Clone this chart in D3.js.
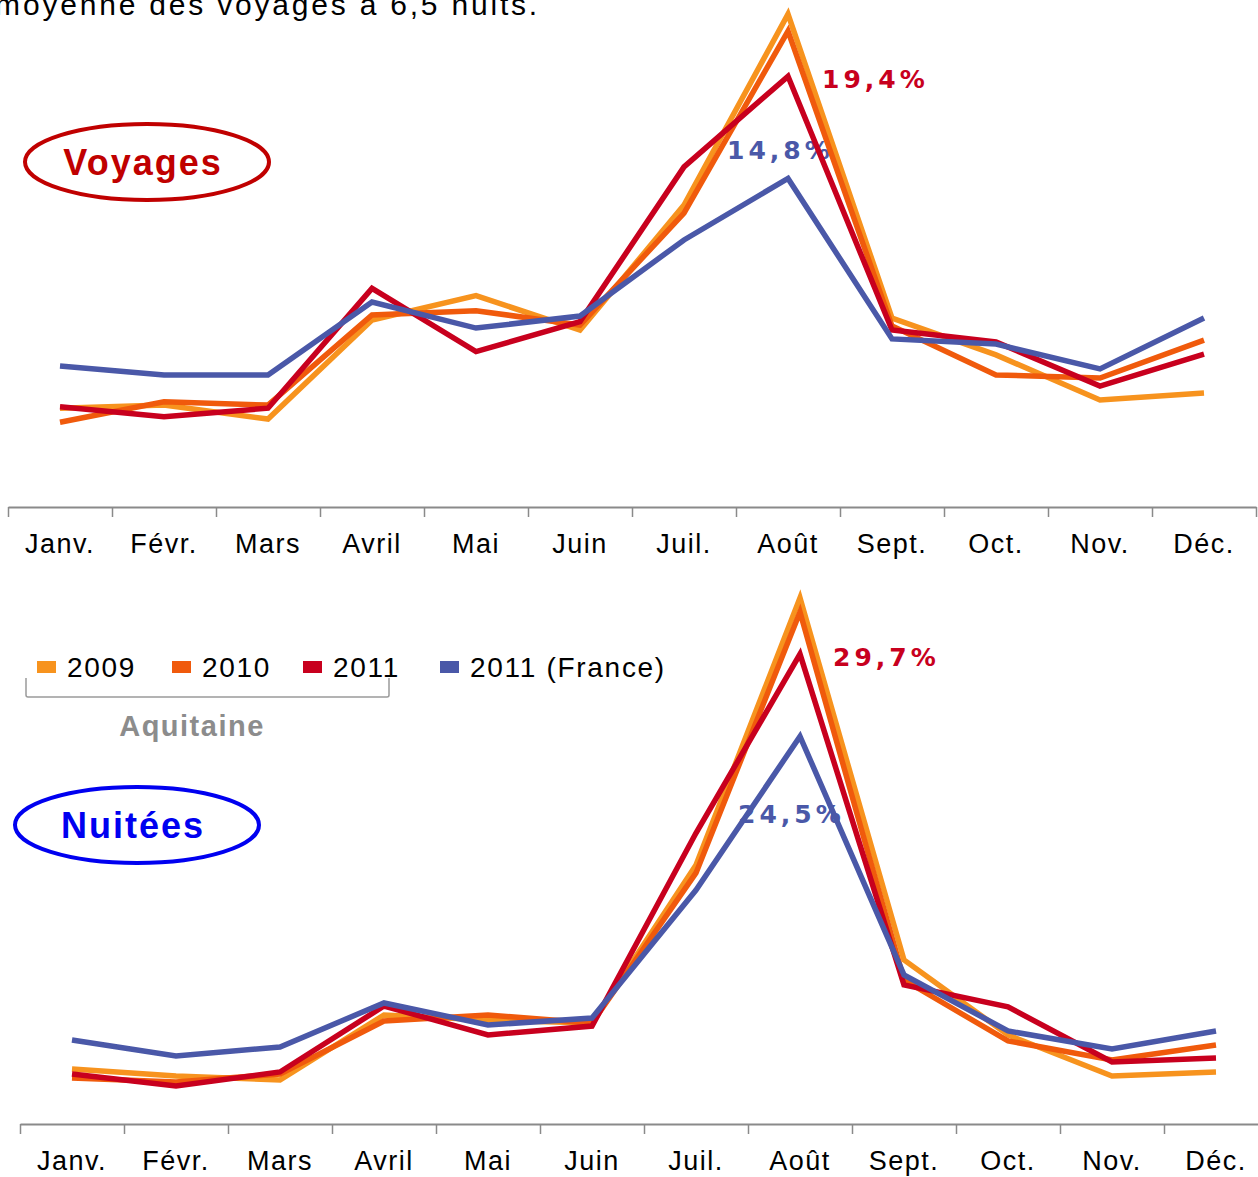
<!DOCTYPE html>
<html>
<head>
<meta charset="utf-8">
<script src="https://cdn.jsdelivr.net/npm/d3@7/dist/d3.min.js"></script>
<style>
  body { margin: 0; background: #fff; }
  svg { display: block; }
</style>
</head>
<body>
<script>
// months (x categories)
var months = ["Janv.", "Févr.", "Mars", "Avril", "Mai", "Juin", "Juil.", "Août", "Sept.", "Oct.", "Nov.", "Déc."];

// share of the year (%) - Voyages
var voyages2009 = [4.45, 4.59, 3.96, 8.42, 9.52, 7.97, 13.6, 22.2, 8.51, 6.85, 4.82, 5.14];
var voyages2010 = [3.82, 4.74, 4.59, 8.65, 8.84, 8.2, 13.24, 21.44, 8.15, 5.95, 5.81, 7.52];
var voyages2011 = [4.52, 4.07, 4.45, 9.85, 7.0, 8.35, 15.32, 19.4, 7.97, 7.43, 5.45, 6.89];
var voyagesFrance = [6.35, 5.95, 5.95, 9.23, 8.06, 8.6, 12.03, 14.8, 7.57, 7.34, 6.22, 8.51];

// share of the year (%) - Nuitées
var nuitees2009 = [3.48, 3.03, 2.78, 6.89, 6.57, 6.38, 16.37, 33.25, 10.37, 5.63, 3.03, 3.29];
var nuitees2010 = [2.91, 2.65, 3.16, 6.51, 6.89, 6.38, 15.87, 32.36, 9.1, 5.25, 4.05, 4.99];
var nuitees2011 = [3.16, 2.4, 3.29, 7.46, 5.63, 6.19, 18.39, 29.7, 8.79, 7.4, 3.92, 4.17];
var nuiteesFrance = [5.31, 4.3, 4.87, 7.65, 6.26, 6.7, 14.79, 24.5, 9.42, 5.88, 4.74, 5.88];

var seriesNames = ["2009", "2010", "2011", "2011 (France)"];
var colors = ["#F7931E", "#F05A0C", "#C8001E", "#4A58A8"];

var svg = d3.select("body").append("svg")
    .attr("width", 1258)
    .attr("height", 1177);

// text cut off at the top of the picture (as in the source)
svg.append("text")
    .attr("x", 540)
    .attr("y", 15)
    .attr("text-anchor", "end")
    .style("font-family", "Liberation Sans, Arial, sans-serif")
    .style("font-size", "30px")
    .style("letter-spacing", "2.8px")
    .attr("fill", "#000")
    .text("moyenne des voyages à 6,5 nuits.");

function drawPanel(cfg) {
    var x = d3.scaleBand().domain(months).range([cfg.x0, cfg.x1]);
    var xTicks = d3.scaleLinear().domain([0, 12]).range([cfg.x0, cfg.x1]);
    var y = d3.scaleLinear().domain([0, cfg.yMax]).range([cfg.axisY, cfg.yTop]);

    var g = svg.append("g");

    // axis line + boundary ticks
    var ax = g.append("g")
        .attr("transform", "translate(0," + cfg.axisY + ")")
        .call(d3.axisBottom(xTicks).tickValues(d3.range(0, 13)).tickFormat("").tickSize(10).tickSizeOuter(0));
    ax.select(".domain").attr("stroke", "#8a8a8a").attr("stroke-width", 2);
    ax.selectAll(".tick line").attr("stroke", "#8a8a8a").attr("stroke-width", 1.5);

    // month labels
    var lab = g.append("g")
        .attr("transform", "translate(0," + cfg.axisY + ")")
        .call(d3.axisBottom(x).tickSize(0).tickPadding(27));
    lab.select(".domain").remove();
    lab.selectAll("text")
        .style("font-family", "Liberation Sans, Arial, sans-serif")
        .style("font-size", "27px")
        .style("letter-spacing", "1.5px")
        .attr("fill", "#000");

    var line = d3.line()
        .x(function (d, i) { return x(months[i]) + x.bandwidth() / 2; })
        .y(function (d) { return y(d); });

    // percent labels
    cfg.labels.forEach(function (l) {
        g.append("text")
            .attr("x", x(months[7]) + x.bandwidth() / 2 + l.dx)
            .attr("y", y(l.value) + l.dy)
            .attr("fill", l.color)
            .style("font-family", "DejaVu Sans, Verdana, sans-serif")
            .style("font-weight", "bold")
            .style("font-size", "25px")
            .style("letter-spacing", "4px")
            .text(String(l.value.toFixed(1)).replace(".", ",") + "%");
    });

    cfg.series.forEach(function (s, k) {
        g.append("path")
            .datum(s)
            .attr("fill", "none")
            .attr("stroke", colors[k])
            .attr("stroke-width", 5.5)
            .attr("stroke-linejoin", "miter")
            .attr("d", line);
    });

    // oval title
    g.append("ellipse")
        .attr("cx", cfg.oval.cx)
        .attr("cy", cfg.oval.cy)
        .attr("rx", 122)
        .attr("ry", 38)
        .attr("fill", "none")
        .attr("stroke", cfg.oval.color)
        .attr("stroke-width", 4);
    g.append("text")
        .attr("x", cfg.oval.cx - 4)
        .attr("y", cfg.oval.cy + 13)
        .attr("text-anchor", "middle")
        .attr("fill", cfg.oval.color)
        .style("font-family", "Liberation Sans, Arial, sans-serif")
        .style("font-weight", "bold")
        .style("font-size", "36px")
        .style("letter-spacing", "2px")
        .text(cfg.oval.text);
}

drawPanel({
    x0: 8, x1: 1256, axisY: 507, yTop: 7.5, yMax: 22.5,
    series: [voyages2009, voyages2010, voyages2011, voyagesFrance],
    labels: [
        { value: 19.4, color: "#C8001E", dx: 34, dy: 12 },
        { value: 14.8, color: "#4A58A8", dx: -61, dy: -19 }
    ],
    oval: { cx: 147, cy: 162, color: "#C00000", text: "Voyages" }
});

drawPanel({
    x0: 20, x1: 1268, axisY: 1124, yTop: 594, yMax: 33.5,
    series: [nuitees2009, nuitees2010, nuitees2011, nuiteesFrance],
    labels: [
        { value: 29.7, color: "#C8001E", dx: 33, dy: 12 },
        { value: 24.5, color: "#4A58A8", dx: -62, dy: 87 }
    ],
    oval: { cx: 137, cy: 825, color: "#0000F0", text: "Nuitées" }
});

// legend
var legendX = [37, 172, 303, 440];
var legend = svg.append("g");
seriesNames.forEach(function (n, k) {
    legend.append("rect")
        .attr("x", legendX[k])
        .attr("y", 661)
        .attr("width", 19)
        .attr("height", 12)
        .attr("fill", colors[k]);
    legend.append("text")
        .attr("x", legendX[k] + 30)
        .attr("y", 677)
        .style("font-family", "Liberation Sans, Arial, sans-serif")
        .style("font-size", "28px")
        .style("letter-spacing", "1.7px")
        .attr("fill", "#000")
        .text(n);
});

// bracket under the Aquitaine series
legend.append("path")
    .attr("d", "M26,678 V695 Q26,697 28,697 H387 Q389,697 389,695 V678")
    .attr("fill", "none")
    .attr("stroke", "#9a9a9a")
    .attr("stroke-width", 1.5);
legend.append("text")
    .attr("x", 192)
    .attr("y", 736)
    .attr("text-anchor", "middle")
    .attr("fill", "#8c8c8c")
    .style("font-family", "Liberation Sans, Arial, sans-serif")
    .style("font-weight", "bold")
    .style("font-size", "29px")
    .style("letter-spacing", "1.5px")
    .text("Aquitaine");
</script>
</body>
</html>
